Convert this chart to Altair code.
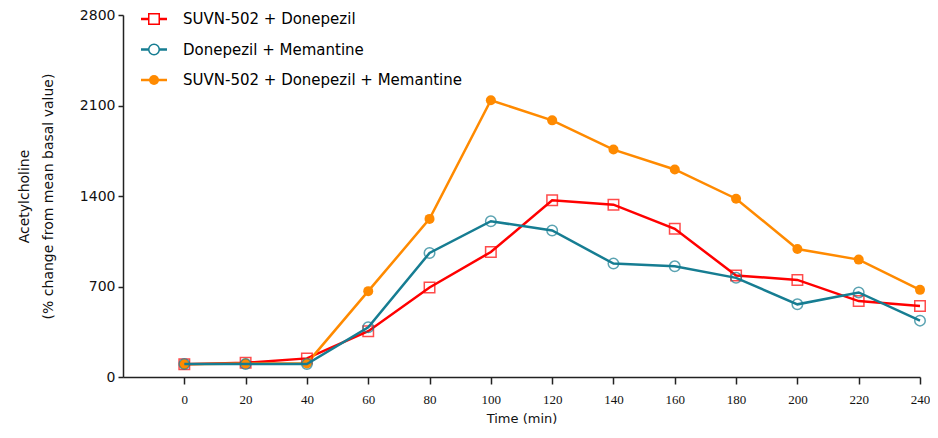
import altair as alt
import pandas as pd

time_min = [0, 20, 40, 60, 80, 100, 120, 140, 160, 180, 200, 220, 240]
series_names = ["SUVN-502 + Donepezil", "Donepezil + Memantine", "SUVN-502 + Donepezil + Memantine"]
suvn_donepezil = [98, 110, 144, 354, 692, 967, 1367, 1333, 1146, 785, 751, 587, 549]
donepezil_memantine = [100, 100, 100, 385, 959, 1205, 1133, 877, 856, 767, 562, 654, 436]
triple = [98, 105, 105, 664, 1223, 2141, 1985, 1759, 1605, 1379, 990, 908, 674]
colors = ["#FF0000", "#167D92", "#FF8A00"]
shapes = ["square", "circle", "circle"]
y_ticks = [0, 700, 1400, 2100, 2800]
x_ticks = time_min

rows = []
for name, vals in zip(series_names, [suvn_donepezil, donepezil_memantine, triple]):
    for t, v in zip(time_min, vals):
        rows.append({"time": t, "value": v, "series": name})
df = pd.DataFrame(rows)
leg = pd.DataFrame({"series": series_names, "row": [0, 1, 2]})

FONT = "DejaVu Sans"
color = alt.Color("series:N", scale=alt.Scale(domain=series_names, range=colors), legend=None)
shape = alt.Shape("series:N", scale=alt.Scale(domain=series_names, range=shapes), legend=None)

x = alt.X("time:Q", scale=alt.Scale(domain=[-20, 240], nice=False, zero=False),
          axis=alt.Axis(values=x_ticks, title="Time (min)", labelFontSize=13,
                        labelFont="Liberation Sans Narrow", titleFont=FONT, titleFontSize=13,
                        titleFontWeight="normal", tickSize=7, labelPadding=9, titlePadding=6,
                        labelFlush=False, format="d"))
y = alt.Y("value:Q", scale=alt.Scale(domain=[0, 2800], nice=False),
          axis=alt.Axis(values=y_ticks, title=["Acetylcholine", "(% change from mean basal value)"],
                        labelFontSize=14, labelFont=FONT, titleFont=FONT, titleFontSize=14,
                        titleFontWeight="normal", tickSize=5, labelPadding=3, titlePadding=24,
                        titleLineHeight=24, format="d"))

base = alt.Chart(df).encode(x=x, y=y, color=color)
order = [series_names[0], series_names[2], series_names[1]]
lines = [base.transform_filter(alt.datum.series == s).mark_line(strokeWidth=2.5) for s in order]
open_pts = base.transform_filter(alt.datum.series != series_names[2]).mark_point(
    filled=False, size=110, strokeWidth=1.5).encode(shape=shape)
filled_pts = base.transform_filter(alt.datum.series == series_names[2]).mark_circle(
    size=100, opacity=1)
data_layer = alt.layer(*lines[:2], open_pts.transform_filter(alt.datum.series == series_names[0]),
                       filled_pts, lines[2],
                       open_pts.transform_filter(alt.datum.series == series_names[1]))

ly = alt.Y("row:Q", scale=alt.Scale(domain=[0, 2], range=[4, 65]), axis=None)
lbase = alt.Chart(leg).encode(y=ly)
leg_rule = lbase.mark_rule(strokeWidth=2.5).encode(x=alt.value(18), x2=alt.value(44), color=color)
leg_open = lbase.transform_filter(alt.datum.series != series_names[2]).mark_point(
    filled=False, size=110, strokeWidth=1.5, fill="white", fillOpacity=1).encode(
    x=alt.value(31), color=color, shape=shape)
leg_fill = lbase.transform_filter(alt.datum.series == series_names[2]).mark_circle(
    size=100, opacity=1).encode(x=alt.value(31), color=color)
leg_text = lbase.mark_text(align="left", baseline="middle", fontSize=15, font=FONT,
                           color="black").encode(x=alt.value(60), text="series:N")
legend_layer = alt.layer(leg_rule, leg_open, leg_fill, leg_text)

chart = alt.layer(data_layer, legend_layer).resolve_scale(y="independent").properties(
    width=797, height=362,
    autosize=alt.AutoSizeParams(type="none"),
    padding={"left": 115, "top": 7, "right": 10, "bottom": 52},
).configure_view(strokeWidth=0).configure_axis(
    domainColor="#222222", domainWidth=1.5, tickColor="#222222", tickWidth=1.5,
    labelColor="#111111", titleColor="#111111", grid=False)

chart.save("out.html", embed_options={"renderer": "svg", "actions": False})
